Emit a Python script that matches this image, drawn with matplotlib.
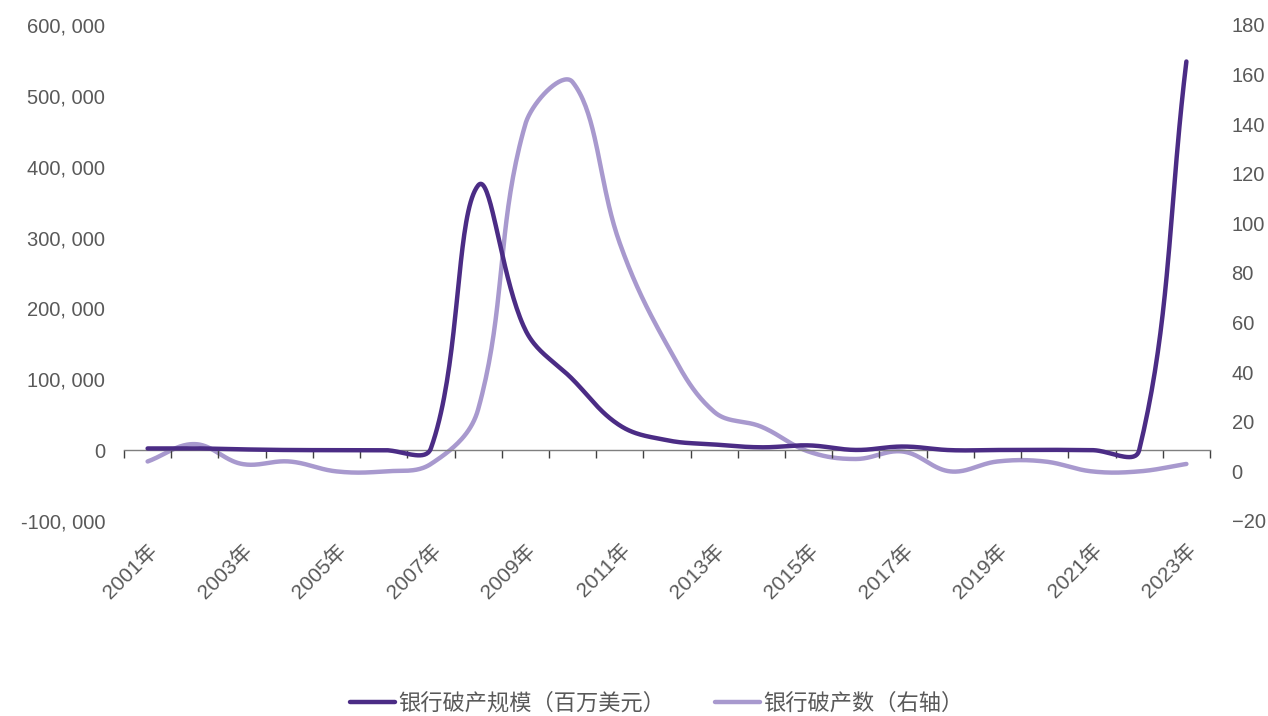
import matplotlib
matplotlib.use("Agg")
import matplotlib.pyplot as plt
import numpy as np

plt.rcParams['font.family'] = ['Liberation Sans', 'Noto Sans CJK SC']
plt.rcParams['axes.unicode_minus'] = False

years = [str(y) + "年" for y in range(2001, 2024)]
# 银行破产规模（百万美元）
assets = [2358, 2508, 1097, 170, 0, 0, 2615, 373589, 169709, 100000, 34923,
          14000, 8000, 4000, 6706, 277, 5082, 0, 209, 458, 0, 0, 548500]
# 银行破产数（右轴）
counts = [4, 11, 3, 4, 0, 0, 3, 25, 140, 157, 92, 51, 24, 18, 8, 5, 8, 0, 4, 4, 0, 0, 3]
left_ticks = list(range(-100000, 600001, 100000))
right_ticks = list(range(-20, 181, 20))

c_dark = "#4B2C85"
c_light = "#A899CE"
grey = "#595959"


def smooth(y, sx, sy, k=0.75, n=40):
    # bezier smoothing, control arms weighted by segment length (in pixels)
    y = np.asarray(y, dtype=float)
    x = np.arange(len(y), dtype=float)
    P = np.column_stack([x * sx, y * sy])
    m = len(P)
    arm_in, arm_out = np.zeros((m, 2)), np.zeros((m, 2))
    for i in range(m):
        a = P[max(i - 1, 0)]
        c = P[min(i + 1, m - 1)]
        d1 = np.hypot(*(P[i] - a))
        d2 = np.hypot(*(c - P[i]))
        if d1 + d2 == 0:
            continue
        tang = (c - a) / 2
        arm_in[i] = tang * k * d1 / (d1 + d2)
        arm_out[i] = tang * k * d2 / (d1 + d2)
    out = []
    t = np.linspace(0, 1, n)[:, None]
    for i in range(m - 1):
        p1, p2 = P[i], P[i + 1]
        c1 = p1 + arm_out[i]
        c2 = p2 - arm_in[i + 1]
        seg = ((1 - t) ** 3) * p1 + 3 * ((1 - t) ** 2) * t * c1 + 3 * (1 - t) * t ** 2 * c2 + t ** 3 * p2
        out.append(seg if i == 0 else seg[1:])
    out = np.vstack(out)
    return out[:, 0] / sx, out[:, 1] / sy


fig = plt.figure(figsize=(12.68, 7.16), dpi=100)
ax = fig.add_axes([124 / 1268, 195 / 716, 1086 / 1268, 496 / 716])
ax2 = ax.twinx()

xs, ys = smooth(assets, 47.2, 70.86 / 100000)
l1, = ax.plot(xs, ys, color=c_dark, lw=3.2, solid_capstyle='round', label="银行破产规模（百万美元）", zorder=3)
xs2, ys2 = smooth(counts, 47.2, 2.48)
l2, = ax2.plot(xs2, ys2, color=c_light, lw=3.2, solid_capstyle='round', label="银行破产数（右轴）")
ax.set_zorder(ax2.get_zorder() + 1)
ax.patch.set_visible(False)

ax.set_xlim(-0.5, len(years) - 0.5)
ax.set_ylim(-100000, 600000)
ax2.set_ylim(-20, 180)
ax.set_yticks(left_ticks)
ax.set_yticklabels([f"{v:,}".replace(",", ", ") for v in left_ticks])
ax2.set_yticks(right_ticks)
ax2.set_yticklabels([str(v).replace("-", "\u2212") for v in right_ticks])

for a in (ax, ax2):
    for s in a.spines.values():
        s.set_visible(False)
    a.tick_params(axis='y', length=0, labelsize=14.5, labelcolor=grey)
ax.tick_params(axis='y', pad=13.5)
ax2.tick_params(axis='y', pad=15.5)

# category labels at bottom
ax.set_xticks(np.arange(0, len(years), 2))
ax.set_xticklabels(years[::2], rotation=45, ha='right', rotation_mode='anchor')
ax.tick_params(axis='x', length=0, labelsize=15, labelcolor=grey, pad=14)

# axis line at zero with boundary ticks
sec = ax.secondary_xaxis(1 / 7)
sec.spines['bottom'].set_color("#7f7f7f")
sec.spines['bottom'].set_linewidth(1)
sec.set_xticks(np.arange(-0.5, len(years), 1))
sec.tick_params(axis='x', length=6, width=1, color="#404040", labelbottom=False, direction='out')

fig.legend(handles=[l1, l2], loc='lower center', bbox_to_anchor=(0.518, -0.026), ncol=2, frameon=False,
           prop={'family': ['Noto Sans CJK SC'], 'size': 16}, handlelength=2.0, handletextpad=0.15,
           columnspacing=2.25, labelcolor=grey)

fig.savefig("out.png", dpi=100)
